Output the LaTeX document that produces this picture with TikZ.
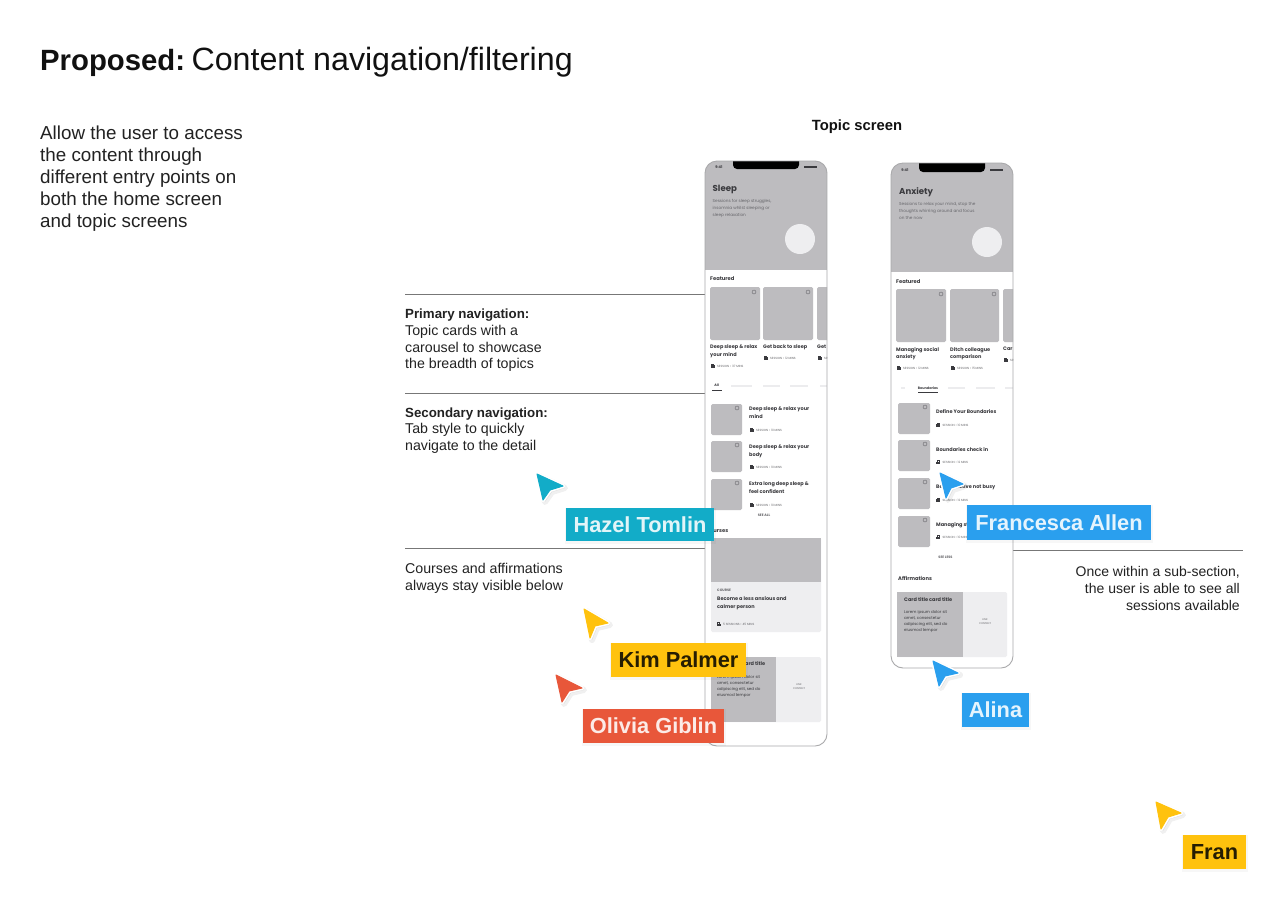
\documentclass[tikz,border=0pt]{standalone}
\usepackage{fontspec}
\setmainfont{Liberation Sans}
\newfontfamily\uifont{Poppins}
\usetikzlibrary{calc}
\definecolor{ink}{HTML}{111111}
\definecolor{body}{HTML}{222222}
\definecolor{rulegray}{HTML}{777777}
\definecolor{shell}{HTML}{A9A9AB}
\definecolor{block}{HTML}{BDBCBF}
\definecolor{pale}{HTML}{EEEEF0}
\definecolor{faint}{HTML}{ECECEE}
\definecolor{uitext}{HTML}{3A3A3E}
\definecolor{uimeta}{HTML}{66666A}
\definecolor{teal}{HTML}{12ACC8}
\definecolor{amber}{HTML}{FFC20E}
\definecolor{coral}{HTML}{E8573A}
\definecolor{azure}{HTML}{2A9FEE}
\tikzset{
  note/.style={inner sep=0pt,anchor=north west,align=left,text=body,font=\fontsize{14.2}{16.6}\selectfont},
  guide/.style={draw=rulegray,line width=0.8pt},
  card/.style={fill=block,rounded corners=1.5pt,draw=none},
  ptitle/.style={inner sep=0pt,anchor=west,text=uitext,font=\uifont\bfseries\fontsize{8.6}{10}\selectfont},
  phead/.style={inner sep=0pt,anchor=west,text=uitext,font=\uifont\bfseries\fontsize{5.2}{6}\selectfont},
  pline/.style={inner sep=0pt,anchor=north west,align=left,text=uitext,font=\uifont\bfseries\fontsize{5}{7.6}\selectfont},
  pdesc/.style={inner sep=0pt,anchor=north west,align=left,text=uimeta,font=\uifont\fontsize{4.2}{6.9}\selectfont},
  pmeta/.style={inner sep=0pt,anchor=west,text=uimeta,font=\uifont\fontsize{3}{4}\selectfont},
  tag/.style={inner sep=0pt,anchor=center,font=\bfseries\fontsize{21.8}{24}\selectfont},
  shellline/.style={draw=shell,line width=0.9pt,rounded corners=12pt},
}
% lock + metadata
\newcommand{\sessionline}[4]{% name,x,y,text
  \fill[uitext] (#2-0.3,#3-1) rectangle (#2+3.8,#3+1.8);
  \draw[uitext,line width=0.5pt] (#2+0.7,#3-1) -- (#2+0.7,#3-2) -- (#2+2.7,#3-2) -- (#2+2.7,#3-1);
  \node[pmeta] (#1) at (#2+6,#3) {#4};
}
\newcommand{\heart}[2]{\draw[draw=uimeta,line width=0.4pt] (#1,#2) circle (2pt);}
\newcommand{\pointer}[9]{% fill, tip x,y, right x,y, inner x,y, bottom x,y
  \fill[black,opacity=0.08,line join=round,draw=black,draw opacity=0.06,line width=6pt]
     (#2+2,#3+2) -- (#4+2,#5+2) -- (#6+2,#7+2) -- (#8+2,#9+2) -- cycle;
  \draw[white,fill=white,line width=4.2pt,line join=round]
     (#2,#3) -- (#4,#5) -- (#6,#7) -- (#8,#9) -- cycle;
  \draw[#1,fill=#1,line width=1pt,line join=round]
     (#2,#3) -- (#4,#5) -- (#6,#7) -- (#8,#9) -- cycle;
}
\newcommand{\labelbox}[8]{% name,x1,y1,x2,y2,fill,textcolor,text
  \fill[black,opacity=0.03] (#2-1,#3) rectangle (#4+2,#5+3);
  \node[tag,fill=#6,text=#7,minimum width=#4pt-#2pt,minimum height=#5pt-#3pt] (#1) at ({(#2+#4)/2},{(#3+#5)/2}) {#8};
}
\begin{document}
\begin{tikzpicture}[x=1pt,y=-1pt]
\useasboundingbox (0,0) rectangle (1269,911);
\fill[white] (0,0) rectangle (1269,911);

% headings
\node[inner sep=0pt,anchor=base west,text=ink,font=\fontsize{32.2}{34}\selectfont] (title) at (40,70) {{\bfseries\fontsize{29.3}{34}\selectfont Proposed:}\hspace{-5.5pt} Content navigation/filtering};
\node[inner sep=0pt,anchor=north west,align=left,text=body,font=\fontsize{18.8}{22}\selectfont] (intro) at (40,126) {Allow the user to access\\the content through\\different entry points on\\both the home screen\\and topic screens};
\node[inner sep=0pt,text=ink,font=\bfseries\fontsize{14.8}{16}\selectfont] (topic) at (857,126.5) {Topic screen};

% side notes
\node[note] (primary) at (405,309) {{\bfseries\fontsize{13.3}{16.6}\selectfont Primary navigation:}\\Topic cards with a\\carousel to showcase\\the breadth of topics};
\node[note] (secondary) at (405,407.5) {{\bfseries\fontsize{13.3}{16.6}\selectfont Secondary navigation:}\\Tab style to quickly\\navigate to the detail};
\node[note] (courses) at (405,563) {Courses and affirmations\\always stay visible below};
\node[inner sep=0pt,anchor=north east,align=right,text=body,font=\fontsize{14}{16.8}\selectfont] (within) at (1240,566.5) {Once within a sub-section,\\the user is able to see all\\sessions available};

% guide lines
\coordinate (g1a) at (405,294); \coordinate (g1b) at (705,294);
\coordinate (g2a) at (405,393); \coordinate (g2b) at (705,393);
\coordinate (g3a) at (405,548); \coordinate (g3b) at (705,548);
\coordinate (g4a) at (1013,550); \coordinate (g4b) at (1243,550);
\draw[guide] (g1a) -- (g1b);
\draw[guide] (g2a) -- (g2b);
\draw[guide] (g3a) -- (g3b);
\draw[guide] (g4a) -- (g4b);

%%%%%%%%%% PHONE 1
\begin{scope}
\clip[rounded corners=12pt] (705,161) rectangle (827,746);
\fill[white] (705,161) rectangle (827,746);
\fill[block] (705,161) rectangle (827,270);
\fill[black,rounded corners=4pt] (733,155) rectangle (799,169);
\node[inner sep=0pt,text=uitext,font=\uifont\bfseries\fontsize{3.6}{4}\selectfont] (aTime) at (719,167) {9:41};
\fill[uitext] (804,166) rectangle (817,168);
\node[ptitle] (aTitle) at (712.5,189) {Sleep};
\node[pdesc] (aDesc) at (712.5,199.5) {Sessions for sleep struggles,\\insomnia whilst sleeping or\\sleep relaxation};
\fill[pale] (800,239) circle (15pt);
\node[phead] (aFeat) at (710,279) {Featured};
\fill[card] (710,287) rectangle (760,340);
\fill[card] (763,287) rectangle (813,340);
\fill[card] (817,287) rectangle (840,340);
\heart{754}{292}\heart{808}{292}
\node[pline] (aC1) at (710,344.5) {Deep sleep \& relax\\your mind};
\node[pline] (aC2) at (763,344.5) {Get back to sleep};
\node[pline] (aC3) at (817,344.5) {Get};
\sessionline{aM1}{711}{366}{SESSION • 37 MINS}
\sessionline{aM2}{764}{358}{SESSION • 12 MINS}
\sessionline{aM3}{818}{358}{SESSION}
% tabs
\node[inner sep=0pt,text=uitext,font=\uifont\bfseries\fontsize{3.4}{4}\selectfont] (aAll) at (716.5,385.5) {All};
\draw[uitext,line width=0.8pt] (712,390.5) -- (722,390.5);
\fill[faint] (731,384.5) rectangle (752,386.5);
\fill[faint] (763,384.5) rectangle (780,386.5);
\fill[faint] (790,384.5) rectangle (808,386.5);
\fill[faint] (820,384.5) rectangle (827,386.5);
% list
\foreach \yy in {404,441,479}{
  \fill[card] (711,\yy) rectangle (742,\yy+31);
  \heart{737}{\yy+4}
}
\node[pline] (aL1) at (749,407) {Deep sleep \& relax your\\mind};
\sessionline{aLM1}{750}{430}{SESSION • 10 MINS}
\node[pline] (aL2) at (749,444.5) {Deep sleep \& relax your\\body};
\sessionline{aLM2}{750}{467}{SESSION • 10 MINS}
\node[pline] (aL3) at (749,482) {Extra long deep sleep \&\\feel confident};
\sessionline{aLM3}{750}{505}{SESSION • 10 MINS}
\node[inner sep=0pt,text=uimeta,font=\uifont\bfseries\fontsize{3.4}{4}\selectfont] (aSee) at (764,515.5) {SEE ALL};
\node[phead] (aCourses) at (706,531) {Courses};
% course card
\fill[pale,rounded corners=1.5pt] (711,538) rectangle (821,632);
\fill[block] (711,538) -- (821,538) -- (821,582) -- (711,582) -- cycle;
\node[inner sep=0pt,anchor=west,text=uimeta,font=\uifont\bfseries\fontsize{3.4}{4}\selectfont] (aCourse) at (717,590.5) {COURSE};
\node[pline] (aCT) at (717,596.5) {Become a less anxious and\\calmer person};
\sessionline{aCM}{717}{624.5}{5 SESSIONS • 45 MINS}
% affirmations
\node[phead] (aAff) at (711,648) {Affirmations};
\fill[pale,rounded corners=1.5pt] (711,657) rectangle (821,722);
\fill[block] (711,657) rectangle (776,722);
\node[pline] (aAT) at (717,661.5) {Card title card title};
\node[pdesc,font=\uifont\fontsize{4}{6.2}\selectfont,text=uitext] (aAB) at (717,675) {Lorem ipsum dolor sit\\amet, consectetur\\adipiscing elit, sed do\\eiusmod tempor};
\node[inner sep=0pt,align=center,text=uimeta,font=\uifont\fontsize{2.6}{3.4}\selectfont] (aAR) at (799,686.5) {LINK\\CONTENT};
\end{scope}
\draw[shellline] (705,161) rectangle (827,746);

%%%%%%%%%% PHONE 2
\begin{scope}
\clip[rounded corners=12pt] (891,163) rectangle (1013,668);
\fill[white] (891,163) rectangle (1013,668);
\fill[block] (891,163) rectangle (1013,272);
\fill[black,rounded corners=4pt] (919,157) rectangle (985,172);
\node[inner sep=0pt,text=uitext,font=\uifont\bfseries\fontsize{3.6}{4}\selectfont] (bTime) at (905,170) {9:41};
\fill[uitext] (990,169) rectangle (1003,171);
\node[ptitle] (bTitle) at (899,192) {Anxiety};
\node[pdesc] (bDesc) at (899,202) {Sessions to relax your mind, stop the\\thoughts whirring around and focus\\on the now};
\fill[pale] (987,242) circle (15pt);
\node[phead] (bFeat) at (896,282) {Featured};
\fill[card] (896,289) rectangle (946,342);
\fill[card] (950,289) rectangle (999,342);
\fill[card] (1003,289) rectangle (1026,342);
\heart{941}{294}\heart{994}{294}
\node[pline] (bC1) at (896,347) {Managing social\\anxiety};
\node[pline] (bC2) at (950,347) {Ditch colleague\\comparison};
\node[pline] (bC3) at (1003,347) {Car};
\sessionline{bM1}{897}{368}{SESSION • 12 MINS}
\sessionline{bM2}{951}{368}{SESSION • 15 MINS}
\sessionline{bM3}{1004}{360}{SESSION}
% tabs
\fill[faint] (901,386.5) rectangle (905,388.5);
\node[inner sep=0pt,text=uitext,font=\uifont\bfseries\fontsize{3.4}{4}\selectfont] (bTab) at (928,388) {Boundaries};
\draw[uitext,line width=0.8pt] (918,392.5) -- (938,392.5);
\fill[faint] (948,386.5) rectangle (965,388.5);
\fill[faint] (976,386.5) rectangle (995,388.5);
\fill[faint] (1005,386.5) rectangle (1013,388.5);
% list
\foreach \yy in {403,440,478,516}{
  \fill[card] (898,\yy) rectangle (930,\yy+31);
  \heart{925}{\yy+4}
}
\node[pline] (bL1) at (936,409.5) {Define Your Boundaries};
\sessionline{bLM1}{936.5}{425}{SESSION • 10 MINS}
\node[pline] (bL2) at (936,447) {Boundaries check in};
\sessionline{bLM2}{936.5}{462.5}{SESSION • 12 MINS}
\node[pline] (bL3) at (936,484.5) {Be productive not busy};
\sessionline{bLM3}{936.5}{500}{SESSION • 12 MINS}
\node[pline] (bL4) at (936,522) {Managing stress};
\sessionline{bLM4}{936.5}{537.5}{SESSION • 10 MINS}
\node[inner sep=0pt,text=uimeta,font=\uifont\bfseries\fontsize{3.4}{4}\selectfont] (bSee) at (945.5,557.5) {SEE LESS};
\node[phead] (bAff) at (898,578) {Affirmations};
\fill[pale,rounded corners=1.5pt] (897,592) rectangle (1007,657);
\fill[block] (897,592) rectangle (963,657);
\node[pline] (bAT) at (904,597) {Card title card title};
\node[pdesc,font=\uifont\fontsize{4}{6.2}\selectfont,text=uitext] (bAB) at (904,610) {Lorem ipsum dolor sit\\amet, consectetur\\adipiscing elit, sed do\\eiusmod tempor};
\node[inner sep=0pt,align=center,text=uimeta,font=\uifont\fontsize{2.6}{3.4}\selectfont] (bAR) at (985,621.5) {LINK\\CONTENT};
\end{scope}
\draw[shellline] (891,163) rectangle (1013,668);

%%%%%%%%%% collaborators
\pointer{teal}{537}{474}{563}{486}{550}{490}{543}{500}
\labelbox{hazel}{566}{508}{714}{541}{teal}{white!88!teal}{Hazel Tomlin}
\pointer{amber}{584}{609}{608}{623}{595}{626}{590}{638}
\labelbox{kim}{611}{643}{746}{677}{amber}{black!85!amber}{Kim Palmer}
\pointer{coral}{556}{675}{582}{688}{569}{691}{562}{702}
\labelbox{olivia}{583}{709}{724}{743}{coral}{white!88!coral}{Olivia Giblin}
\pointer{azure}{940}{473}{963}{484}{951}{488}{946}{498}
\labelbox{francesca}{967}{505}{1151}{540}{azure}{white!88!azure}{Francesca Allen}
\pointer{azure}{933}{661}{958}{673}{945}{676}{939}{686}
\labelbox{alina}{962}{693}{1029}{727}{azure}{white!88!azure}{Alina}
\pointer{amber}{1156}{802}{1181}{813}{1168}{817}{1161}{829}
\labelbox{fran}{1183}{835}{1246}{869}{amber}{black!85!amber}{Fran}
\end{tikzpicture}
\end{document}
